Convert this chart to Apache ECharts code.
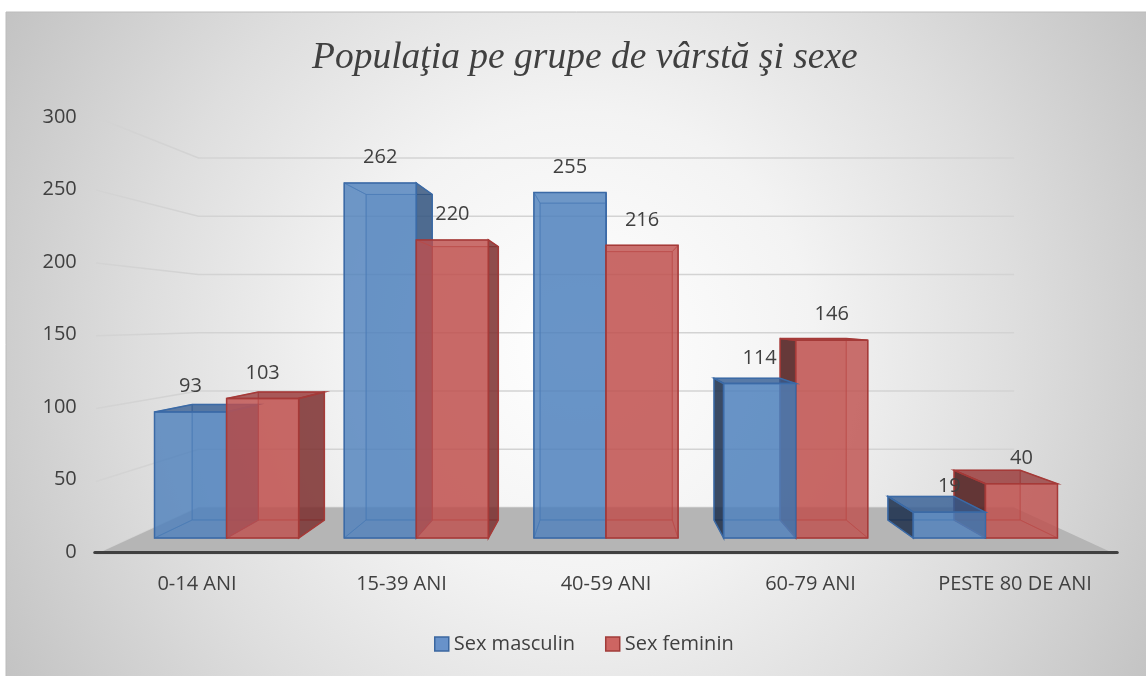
<!DOCTYPE html>
<html><head><meta charset="utf-8">
<script src="https://cdn.jsdelivr.net/npm/echarts@6/dist/echarts.min.js"></script>
<style>html,body{margin:0;padding:0;background:#fff}#c{width:1146px;height:676px}</style>
</head><body><div id="c"></div>
<script>
// ---- data ----
const chartTitle = 'Populaţia pe grupe de vârstă şi sexe';
const categories = ['0-14 ANI', '15-39 ANI', '40-59 ANI', '60-79 ANI', 'PESTE 80 DE ANI'];
const seriesNames = ['Sex masculin', 'Sex feminin'];
const masculin = [93, 262, 255, 114, 19];
const feminin = [103, 220, 216, 146, 40];
const yTicks = [0, 50, 100, 150, 200, 250, 300];

// ---- pseudo-3D projection (one-point perspective) ----
const VP = [608, 321];
const K_BACK = 0.917, K_WALL = 0.86, K_FRONT = 1.075;
const BAR_RATIO = 0.38;
function proj(p, k) { return [VP[0] + k * (p[0] - VP[0]), VP[1] + k * (p[1] - VP[1])]; }

const palettes = [
  { // blue
    back: 'rgba(79,129,189,0.30)', hidden: 'rgba(60,100,150,0.10)', hiddenStroke: 'rgba(45,90,150,0.55)',
    rightSide: 'rgba(45,78,120,0.78)', leftSide: 'rgba(22,40,68,0.80)', top: 'rgba(52,92,145,0.75)',
    front: 'rgba(79,129,189,0.79)', stroke: '#3b6aa6', icon: '#6892ca', iconBorder: '#3b67a0'
  },
  { // red
    back: 'rgba(192,80,77,0.30)', hidden: 'rgba(160,60,60,0.10)', hiddenStroke: 'rgba(165,50,48,0.55)',
    rightSide: 'rgba(118,42,42,0.78)', leftSide: 'rgba(70,22,22,0.80)', top: 'rgba(150,55,55,0.75)',
    front: 'rgba(192,80,77,0.79)', stroke: '#a53a38', icon: '#cd6562', iconBorder: '#a13c3a'
  }
];

function poly(points, fill, stroke, lw, z2) {
  return { type: 'polygon', shape: { points: points }, style: { fill: fill, stroke: stroke, lineWidth: lw }, z2: z2, silent: true };
}

function makeBarRender(sIdx) {
  const pal = palettes[sIdx];
  return function (params, api) {
    const ci = api.value(0), v = api.value(1);
    const topPt = api.coord([ci, v]);
    const basePt = api.coord([ci, 0]);
    const band = api.size([1, 0])[0];
    const bw = band * BAR_RATIO;
    const xl = topPt[0] - bw + sIdx * bw, xr = xl + bw;
    const yt = topPt[1], yb = basePt[1];
    const F = { lt: [xl, yt], rt: [xr, yt], rb: [xr, yb], lb: [xl, yb] };
    const B = { lt: proj(F.lt, K_BACK), rt: proj(F.rt, K_BACK), rb: proj(F.rb, K_BACK), lb: proj(F.lb, K_BACK) };
    const cx = topPt[0];
    const order = cx > VP[0] + 5 ? 1 - sIdx : sIdx;
    const zb = ci * 100 + order * 20 + 10;
    const ch = [];
    ch.push(poly([B.lt, B.rt, B.rb, B.lb], pal.back, pal.hiddenStroke, 1, zb));
    const faces = [
      { pts: [F.lt, B.lt, B.lb, F.lb], vis: xl > VP[0], fill: pal.leftSide },
      { pts: [F.rt, B.rt, B.rb, F.rb], vis: xr < VP[0], fill: pal.rightSide },
      { pts: [F.lt, F.rt, B.rt, B.lt], vis: yt > VP[1], fill: pal.top },
      { pts: [F.lb, F.rb, B.rb, B.lb], vis: yb < VP[1], fill: pal.top }
    ];
    faces.forEach(function (f) { if (!f.vis) ch.push(poly(f.pts, pal.hidden, pal.hiddenStroke, 1, zb + 1)); });
    faces.forEach(function (f) { if (f.vis) ch.push(poly(f.pts, f.fill, pal.stroke, 1.5, zb + 2)); });
    ch.push(poly([F.lt, F.rt, F.rb, F.lb], pal.front, pal.stroke, 1.5, zb + 3));
    ch.push({
      type: 'text', z2: 5000, silent: true,
      style: {
        text: String(v), x: (xl + xr) / 2, y: yt - 25.5, align: 'center', verticalAlign: 'middle',
        fill: '#404040', fontSize: 20, fontFamily: 'Open Sans'
      }
    });
    return { type: 'group', children: ch };
  };
}

function gridRender(params, api) {
  const v = api.value(1);
  const cs = params.coordSys;
  const y = api.coord([0, v])[1];
  const L = [cs.x, y], R = [cs.x + cs.width, y];
  const wl = proj(L, K_WALL), wr = proj(R, K_WALL), fl = proj(L, K_FRONT), fr = proj(R, K_FRONT);
  const ch = [{ type: 'polyline', shape: { points: [fl, wl, wr] }, style: { stroke: '#d3d3d3', lineWidth: 1.5, fill: null }, z2: 1, silent: true }];
  if (v === 0) ch.push({ type: 'polygon', shape: { points: [wl, wr, fr, fl] }, style: { fill: '#b5b5b5' }, z2: 2, silent: true });
  return { type: 'group', children: ch };
}

const chart = echarts.init(document.getElementById('c'), null, { renderer: 'canvas' });
chart.setOption({
  animation: false,
  backgroundColor: '#ffffff',
  graphic: [{
    type: 'rect', z: -100, silent: true,
    shape: { x: 6, y: 12, width: 1146, height: 670 },
    style: {
      fill: { type: 'radial', x: 0.5, y: 0.5, r: 1.0, colorStops: [
        { offset: 0, color: '#ffffff' }, { offset: 0.35, color: '#f3f3f3' },
        { offset: 0.65, color: '#dedede' }, { offset: 1, color: '#c2c2c2' }] },
      stroke: '#bcbcbc', lineWidth: 1
    }
  }],
  title: {
    text: chartTitle, left: 307, top: 34,
    textStyle: { fontFamily: 'Liberation Serif', fontStyle: 'italic', fontWeight: 'normal', fontSize: 37.5, color: '#404040' }
  },
  legend: {
    bottom: 17, left: 429, itemWidth: 14, itemHeight: 14, itemGap: 30, icon: 'rect',
    textStyle: { fontFamily: 'Open Sans', fontSize: 20, color: '#404040' },
    data: seriesNames.map(function (n, i) {
      return { name: n, itemStyle: { color: palettes[i].icon, borderColor: palettes[i].iconBorder, borderWidth: 1.5 } };
    })
  },
  grid: [
    { left: 131.75, right: 65.75, top: 131.5, bottom: 138 },
    { left: 94.75, right: 28.75, top: 117, bottom: 124 }
  ],
  xAxis: [
    { type: 'category', gridIndex: 0, data: categories, show: false },
    {
      type: 'category', gridIndex: 1, data: categories, z: 5,
      axisLine: { show: true, lineStyle: { color: '#404040', width: 3 } },
      axisTick: { show: false },
      axisLabel: { margin: 22, fontFamily: 'Open Sans', fontSize: 20, color: '#404040', interval: 0 }
    }
  ],
  yAxis: [
    { type: 'value', gridIndex: 0, min: 0, max: 300, show: false },
    {
      type: 'value', gridIndex: 1, min: 0, max: 300, interval: 50,
      axisLine: { show: false }, axisTick: { show: false }, splitLine: { show: false },
      axisLabel: { margin: 18, fontFamily: 'Open Sans', fontSize: 20, color: '#404040' }
    }
  ],
  series: [
    {
      type: 'custom', name: '_grid', xAxisIndex: 0, yAxisIndex: 0, z: 1, silent: true,
      renderItem: gridRender, data: yTicks.map(function (t) { return [0, t]; })
    },
    {
      type: 'custom', name: seriesNames[0], xAxisIndex: 0, yAxisIndex: 0, z: 2,
      itemStyle: { color: palettes[0].icon },
      renderItem: makeBarRender(0), data: masculin.map(function (v, i) { return [i, v]; })
    },
    {
      type: 'custom', name: seriesNames[1], xAxisIndex: 0, yAxisIndex: 0, z: 2,
      itemStyle: { color: palettes[1].icon },
      renderItem: makeBarRender(1), data: feminin.map(function (v, i) { return [i, v]; })
    }
  ]
});
</script>
</body></html>
